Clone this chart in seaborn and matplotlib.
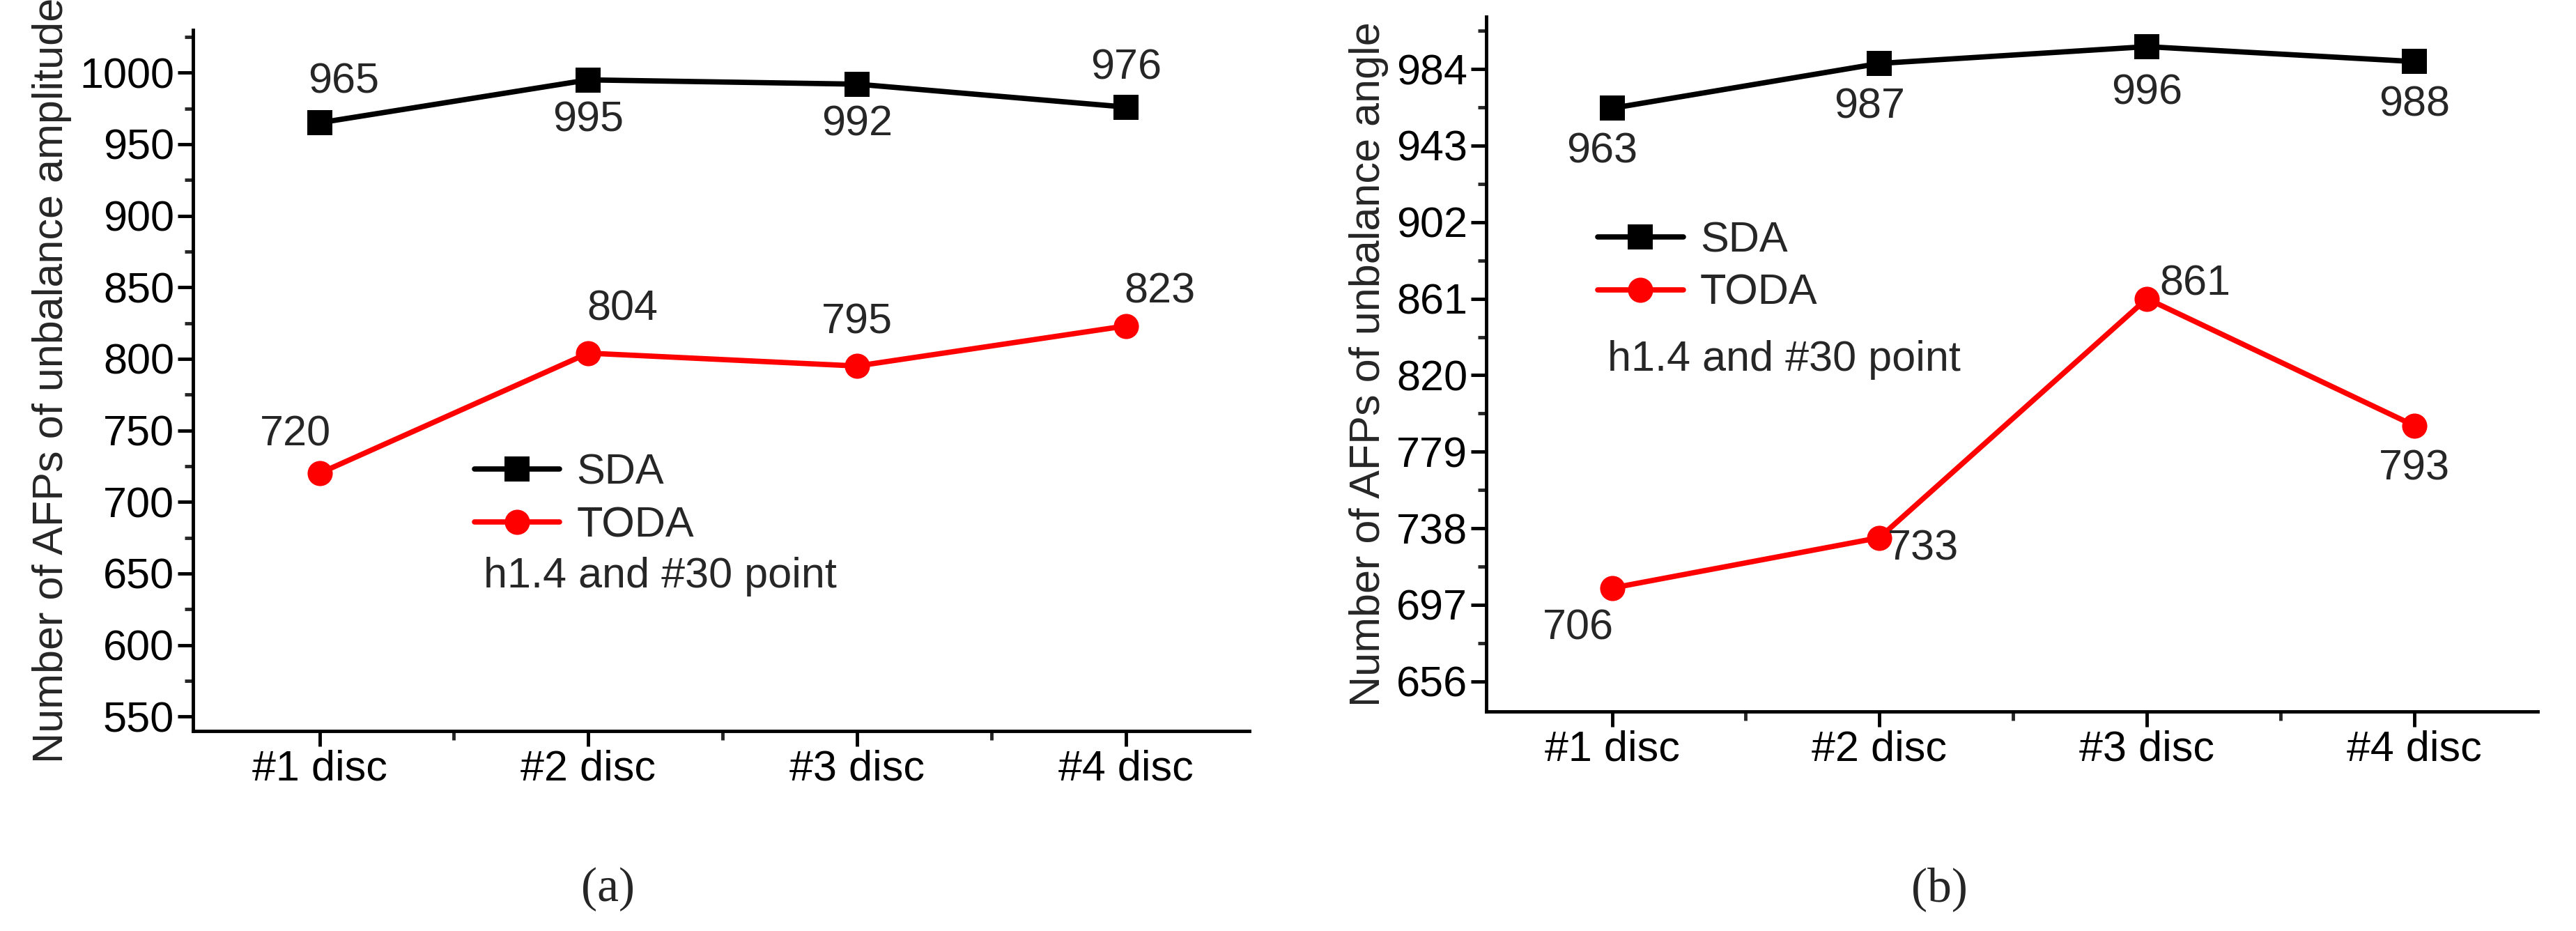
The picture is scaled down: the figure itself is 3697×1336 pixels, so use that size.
import matplotlib
matplotlib.use("Agg")
import matplotlib.pyplot as plt
import seaborn as sns
import pandas as pd
from matplotlib.ticker import AutoMinorLocator, FixedLocator

categories = ["#1 disc", "#2 disc", "#3 disc", "#4 disc"]
sda_amp = [965, 995, 992, 976]
toda_amp = [720, 804, 795, 823]
sda_ang = [963, 987, 996, 988]
toda_ang = [706, 733, 861, 793]
yticks_a = [550, 600, 650, 700, 750, 800, 850, 900, 950, 1000]
yticks_b = [656, 697, 738, 779, 820, 861, 902, 943, 984]

sns.set_style("ticks")
plt.rcParams['font.family'] = ['Liberation Sans', 'DejaVu Sans']
FS = 44
fig = plt.figure(figsize=(36.97, 13.36), dpi=100)
axa = fig.add_axes([0.075, 0.215, 0.41, 0.753])
axb = fig.add_axes([0.577, 0.236, 0.408, 0.746])

def draw(ax, sda, toda, yticks, ylim, ylabel, offs_s, offs_t, leg_xy):
    x = list(range(len(categories)))
    df = pd.DataFrame({"x": x * 2, "y": sda + toda,
                       "s": ["SDA"] * 4 + ["TODA"] * 4})
    sns.lineplot(data=df, x="x", y="y", hue="s", style="s",
                 markers={"SDA": "s", "TODA": "o"}, dashes=False,
                 palette={"SDA": "black", "TODA": "#ff0000"},
                 linewidth=5.5, markersize=26, markeredgewidth=0, ax=ax)
    ax.set_xlim(-0.47, 3.46)
    ax.set_ylim(*ylim)
    ax.set_xticks(x)
    ax.set_xticklabels(categories)
    ax.xaxis.set_minor_locator(FixedLocator([-0.5 + i for i in range(5)]))
    ax.set_yticks(yticks)
    ax.yaxis.set_minor_locator(AutoMinorLocator(2))
    ax.set_xlabel("")
    ax.set_ylabel(ylabel, fontsize=FS, labelpad=8)
    ax.tick_params(labelsize=FS, width=3.5, length=16, direction="out", colors="black")
    ax.tick_params(which="minor", width=3.5, length=9)
    for s in ["left", "bottom"]:
        ax.spines[s].set_linewidth(3.5)
        ax.spines[s].set_color("black")
    sns.despine(ax=ax)
    for i in x:
        ax.annotate(str(sda[i]), (i, sda[i]), xytext=offs_s[i], textcoords="offset points",
                    ha="center", va="center", fontsize=FS)
        ax.annotate(str(toda[i]), (i, toda[i]), xytext=offs_t[i], textcoords="offset points",
                    ha="center", va="center", fontsize=FS)
    ax.legend(loc="upper left", bbox_to_anchor=leg_xy, frameon=False, fontsize=FS,
              title=None, handlelength=2.0, borderaxespad=0, labelspacing=0.3,
              handletextpad=0.4)
    return ax

draw(axa, sda_amp, toda_amp, yticks_a, (540, 1030), "Number of AFPs of unbalance amplitude",
     [(25, 42), (0, -42), (0, -42), (0, 40)],
     [(-25, 40), (35, 45), (0, 45), (35, 35)], (0.25, 0.42))
axa.text(0.275, 0.205, "h1.4 and #30 point", transform=axa.transAxes, fontsize=FS)
draw(axb, sda_ang, toda_ang, yticks_b, (640, 1012), "Number of AFPs of unbalance angle",
     [(-10, -45), (-10, -45), (0, -48), (0, -45)],
     [(-35, -42), (45, -12), (50, 15), (0, -45)], (0.09, 0.73))
axb.text(0.115, 0.49, "h1.4 and #30 point", transform=axb.transAxes, fontsize=FS)

fig.text(0.236, 0.045, "(a)", ha="center", va="center", fontsize=50, family="Liberation Serif")
fig.text(0.753, 0.045, "(b)", ha="center", va="center", fontsize=50, family="Liberation Serif")
fig.savefig("out.png", dpi=100)
